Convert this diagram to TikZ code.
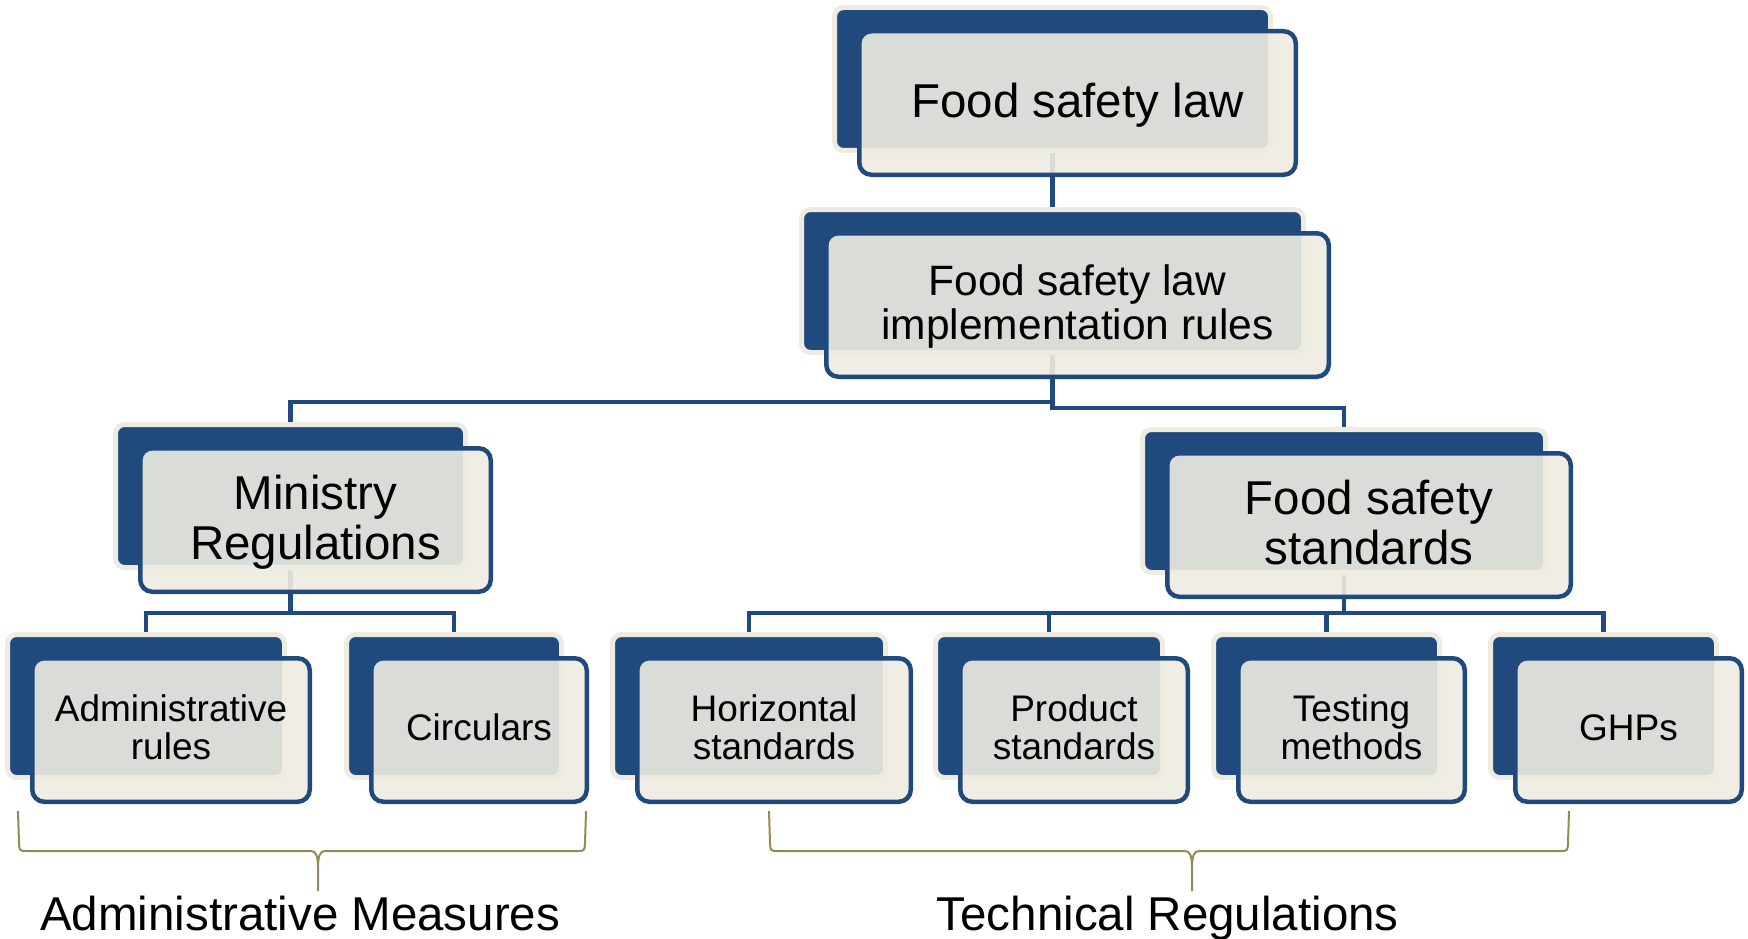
\documentclass[tikz,border=0pt]{standalone}
\usepackage{fontspec}
\setmainfont{Liberation Sans}
\usetikzlibrary{backgrounds}

\definecolor{boxblue}{RGB}{32,74,125}
\definecolor{boxcream}{RGB}{238,236,225}
\definecolor{braceolive}{RGB}{148,138,84}

\tikzset{
  backbox/.style={draw=boxcream, line width=5pt, fill=boxblue, rounded corners=9pt, inner sep=0pt},
  frontbox/.style={draw=boxblue, line width=4.5pt, fill=boxcream, fill opacity=0.9, rounded corners=12pt, inner sep=0pt},
  conn/.style={draw=boxblue, line width=4.5pt},
  bracepath/.style={draw=braceolive, line width=2pt, line join=round},
  lbl/.style={anchor=base, inner sep=0pt, text=black},
  txtbig/.style={font=\fontsize{47.5}{49}\selectfont},
  txtmid/.style={font=\fontsize{42.5}{44}\selectfont},
  txtsmall/.style={font=\fontsize{37}{38}\selectfont},
}

% one organisation unit: dark backing card plus a translucent front card
% #1 name, #2/#3 centre of the backing card, #4/#5 its width and height
\newcommand\orgunit[5]{%
  \node[backbox, minimum width={(#4+5)*1pt}, minimum height={(#5+5)*1pt}] (#1) at (#2,#3) {};
  \node[frontbox, minimum width={(#4+5.5)*1pt}, minimum height={(#5+5.5)*1pt}] (#1f) at (#2+25,#3+24) {};
}

\begin{document}
\begin{tikzpicture}[x=1pt, y=-1pt]
\useasboundingbox (0,0) rectangle (1748,939);

% cards
\orgunit{law}{1052.5}{79}{431}{138}
\orgunit{ir}{1052.5}{281}{497}{138}
\orgunit{min}{290.5}{496}{345}{138}
\orgunit{fss}{1344}{501}{398}{138}
\orgunit{adm}{146}{706}{272}{138}
\orgunit{circ}{454}{706}{210}{138}
\orgunit{hor}{749}{706}{268}{138}
\orgunit{prod}{1049}{706}{222}{138}
\orgunit{test}{1326.5}{706}{221}{138}
\orgunit{ghp}{1603.5}{706}{221}{138}

% bus points of the tree
\coordinate (irbusL) at (1052.5,402);
\coordinate (irbusR) at (1052.5,408);
\coordinate (minbus) at (290.5,613);
\coordinate (fssbus) at (1344,613);

% connectors behind the cards
\begin{pgfonlayer}{background}
  \draw[conn] (law.south) -- (ir.north);
  \draw[conn] (ir.south) -- (irbusL) -| (min.north);
  \draw[conn] (ir.south) -- (irbusR) -| (fss.north);
  \draw[conn] (min.south) -- (minbus) -| (adm.north);
  \draw[conn] (minbus) -| (circ.north);
  \draw[conn] (fss.south) -- (fssbus) -| (hor.north);
  \draw[conn] (fssbus) -| (prod.north);
  \draw[conn] (fssbus) -| (test.north);
  \draw[conn] (fssbus) -| (ghp.north);
\end{pgfonlayer}

% card texts
\node[lbl,txtbig] (lawtxt) at (1077.5,117.5) {Food safety law};
\node[lbl,txtmid] (irtxta) at (1077.5,295.7) {Food safety law};
\node[lbl,txtmid] (irtxtb) at (1077.5,339.7) {implementation rules};
\node[lbl,txtbig] (mintxta) at (315.5,509.9) {Ministry};
\node[lbl,txtbig] (mintxtb) at (315.5,559.1) {Regulations};
\node[lbl,txtbig] (fsstxta) at (1369,514.9) {Food safety};
\node[lbl,txtbig] (fsstxtb) at (1369,564.1) {standards};
\node[lbl,txtsmall] (admtxta) at (171,721.6) {Administrative};
\node[lbl,txtsmall] (admtxtb) at (171,759.9) {rules};
\node[lbl,txtsmall] (circtxt) at (479,740.8) {Circulars};
\node[lbl,txtsmall] (hortxta) at (774,721.6) {Horizontal};
\node[lbl,txtsmall] (hortxtb) at (774,759.9) {standards};
\node[lbl,txtsmall] (prodtxta) at (1074,721.6) {Product};
\node[lbl,txtsmall] (prodtxtb) at (1074,759.9) {standards};
\node[lbl,txtsmall] (testtxta) at (1351.5,721.6) {Testing};
\node[lbl,txtsmall] (testtxtb) at (1351.5,759.9) {methods};
\node[lbl,txtsmall] (ghptxt) at (1628.5,740.8) {GHPs};

% group braces
\draw[bracepath] (18,811) -- (19,843) .. controls (19.5,851) .. (27,851)
  -- (311,851) .. controls (316,851) and (318,856) .. (318,868) -- (318,891);
\draw[bracepath] (318,868) .. controls (318,856) and (320,851) .. (325,851)
  -- (577,851) .. controls (584.5,851) .. (585,843) -- (586,811);
\draw[bracepath] (769,811) -- (770,843) .. controls (770.5,851) .. (778,851)
  -- (1185,851) .. controls (1190,851) and (1192,856) .. (1192,868) -- (1192,891);
\draw[bracepath] (1192,868) .. controls (1192,856) and (1194,851) .. (1199,851)
  -- (1560,851) .. controls (1567.5,851) .. (1568,843) -- (1569,811);

% group captions
\node[anchor=base west, inner sep=0pt, txtbig] (admlbl) at (40,930.7) {Administrative Measures};
\node[anchor=base west, inner sep=0pt, txtbig] (teclbl) at (936.5,930.7) {Technical Regulations};
\end{tikzpicture}
\end{document}
